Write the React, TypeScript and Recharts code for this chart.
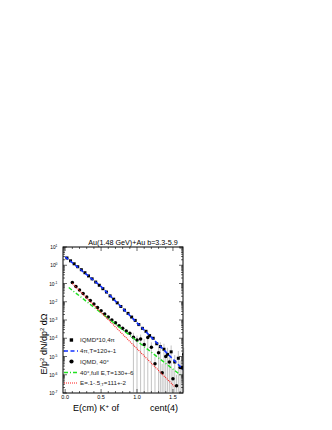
import React from "react";
import { ComposedChart, Scatter, Line, XAxis, YAxis, ErrorBar } from "recharts";

// IQMD*10, 4pi (squares)
const upperX = [0.025, 0.075, 0.125, 0.175, 0.225, 0.275, 0.325, 0.375, 0.425, 0.475, 0.525, 0.575, 0.625, 0.675, 0.725, 0.775, 0.825, 0.875, 0.925, 0.975, 1.025, 1.075, 1.125, 1.175, 1.225, 1.275, 1.325, 1.375, 1.425, 1.475, 1.525, 1.575, 1.625];
const upperY = [2.5, 1.75, 1.2, 0.83, 0.57, 0.39, 0.26, 0.18, 0.12, 0.08, 0.052, 0.034, 0.021, 0.0138, 0.0087, 0.0055, 0.0035, 0.0023, 0.00145, 0.00095, 0.00056, 0.00035, 0.00024, 0.00014, 0.0001, 5e-5, 3.5e-5, 2.5e-5, 1.3e-5, 1.8e-5, 5e-6, 8e-6, 2.5e-6];
const upperLo = [null, null, null, null, null, null, null, null, null, null, null, null, null, null, null, null, null, null, null, null, null, null, null, null, null, null, 1.1e-7, 1.1e-7, 1.1e-7, 1.1e-7, 1.1e-7, 1.1e-7, 1.1e-7];
const upperHi = [null, null, null, null, null, null, null, null, null, null, null, null, null, null, null, null, null, null, null, null, null, null, null, null, null, null, 6e-5, 5e-5, 3e-5, 4e-5, 1.2e-5, 2e-5, 7e-6];

// IQMD, 40 deg (circles)
const lowerX = [0.1, 0.15, 0.2, 0.25, 0.3, 0.35, 0.4, 0.45, 0.5, 0.55, 0.6, 0.65, 0.7, 0.75, 0.8, 0.85, 0.9, 0.95, 1.0, 1.05, 1.1, 1.15, 1.2, 1.25, 1.3, 1.35, 1.4, 1.45, 1.5, 1.55, 1.6, 1.65];
const lowerY = [0.112, 0.068, 0.044, 0.028, 0.018, 0.0117, 0.0076, 0.0049, 0.0032, 0.0021, 0.00145, 0.001, 0.0007, 0.00048, 0.00035, 0.00025, 0.00019, 0.000112, 7.9e-5, 9e-5, 4.5e-5, 1.1e-4, 3.2e-5, 4e-6, 1.6e-5, 1.3e-6, 1e-5, 5e-6, 6e-7, 2.5e-7, 2.5e-6, 1.3e-5];
const lowerLo = [null, null, null, null, null, null, null, null, null, null, null, null, null, null, null, null, null, 1.1e-7, 1.1e-7, 1.1e-7, 1.1e-7, 1.1e-7, 1.1e-7, 1.1e-7, 1.1e-7, 1.1e-7, 1.1e-7, 1.1e-7, 1.1e-7, 1.1e-7, 1.1e-7, 1.1e-7];
const lowerHi = [null, null, null, null, null, null, null, null, null, null, null, null, null, null, null, null, null, 2e-4, 1.4e-4, 1.6e-4, 9e-5, 2e-4, 6e-5, 1e-5, 3.5e-5, 4e-6, 2.2e-5, 1.2e-5, 2e-6, 1e-6, 6e-6, 3e-5];

// fits
const blueX = [0, 0.5, 1.0, 1.65];
const blueY = [2.9, 0.068, 7e-4, 1.8e-6];
const greenX = [0.05, 1.6];
const greenY = [0.06, 1e-6];
const redX = [0.1, 1.52];
const redY = [0.1, 2.3e-7];

const xTicks = [0, 0.1, 0.2, 0.3, 0.4, 0.5, 0.6, 0.7, 0.8, 0.9, 1.0, 1.1, 1.2, 1.3, 1.4, 1.5, 1.6];
const xLabels = ["0.0", "0.5", "1.0", "1.5"];
const decades = [-7, -6, -5, -4, -3, -2, -1, 0, 1];

const yTicks: number[] = [];
decades.forEach(e => {
  yTicks.push(Math.pow(10, e));
  if (e < 1) for (let m = 2; m <= 9; m++) yTicks.push(m * Math.pow(10, e));
});

const pts = (xs: number[], ys: number[], lo?: (number | null)[], hi?: (number | null)[]) =>
  xs.map((x, i) => {
    const y = ys[i];
    const l = lo ? lo[i] : null;
    const h = hi ? hi[i] : null;
    return { x, y, err: [l == null ? 0 : y - l, h == null ? 0 : h - y] };
  });

const upperData = pts(upperX, upperY, upperLo, upperHi);
const lowerData = pts(lowerX, lowerY, lowerLo, lowerHi);
const blueData = pts(blueX, blueY);
const greenData = pts(greenX, greenY);
const redData = pts(redX, redY);

const FONT = "'Liberation Sans', Arial, sans-serif";
const L = 63, R = 183, T = 247, B = 393;
const BLUE = "#1030ff", GREEN = "#22e022", RED = "#ff1a1a";

const isMajor = (v: number) => Math.abs(Math.log10(v) - Math.round(Math.log10(v))) < 1e-6;

const YTick = (side: "left" | "right") => (p: any) => {
  const v = p.payload.value;
  const major = isMajor(v);
  const len = major ? 4 : 2;
  const x0 = side === "left" ? L : R;
  const dir = side === "left" ? 1 : -1;
  const e = Math.round(Math.log10(v));
  return (
    <g>
      <line x1={x0} x2={x0 + dir * len} y1={p.y} y2={p.y} stroke="#000" strokeWidth={0.6} />
      {side === "left" && major && (
        <text x={x0 - 5.5} y={p.y + 2} textAnchor="end" fontSize={4.8} fontFamily={FONT} fill="#000">
          10<tspan dy={-2} fontSize={3.4}>{e}</tspan>
        </text>
      )}
    </g>
  );
};

const XTick = (side: "bottom" | "top") => (p: any) => {
  const v = p.payload.value;
  const idx = Math.round(v * 10);
  const major = idx % 5 === 0;
  const len = major ? 4 : 2;
  const y0 = side === "bottom" ? B : T;
  const dir = side === "bottom" ? -1 : 1;
  return (
    <g>
      <line x1={p.x} x2={p.x} y1={y0} y2={y0 + dir * len} stroke="#000" strokeWidth={0.6} />
      {side === "bottom" && major && (
        <text x={p.x} y={y0 + 5.5} textAnchor="middle" fontSize={5.5} fontFamily={FONT} fill="#000">
          {xLabels[idx / 5]}
        </text>
      )}
    </g>
  );
};

const square = (p: any) => <rect x={p.cx - 1.5} y={p.cy - 1.5} width={3} height={3} fill="#000" />;
const circle = (p: any) => <circle cx={p.cx} cy={p.cy} r={1.75} fill="#000" />;

export default function App() {
  return (
    <div style={{ position: "absolute", left: 0, top: 0, width: 332, height: 430, background: "#fff" }}>
      <ComposedChart width={332} height={430} margin={{ top: T - 1, left: L - 1, right: 332 - R - 1, bottom: 430 - B - 1 }}>
        <XAxis dataKey="x" type="number" domain={[-0.03, 1.64]} ticks={xTicks} allowDataOverflow
          height={1} tickSize={0} tickMargin={0} axisLine={false} tick={XTick("bottom")} interval={0} />
        <XAxis xAxisId="top" orientation="top" dataKey="x" type="number" domain={[-0.03, 1.64]} ticks={xTicks} allowDataOverflow
          height={1} tickSize={0} tickMargin={0} axisLine={false} tick={XTick("top")} interval={0} />
        <YAxis scale="log" type="number" domain={[1e-7, 10]} ticks={yTicks} allowDataOverflow
          width={1} tickSize={0} tickMargin={0} axisLine={false} tick={YTick("left")} interval={0} />
        <YAxis yAxisId="right" orientation="right" scale="log" type="number" domain={[1e-7, 10]} ticks={yTicks} allowDataOverflow
          width={1} tickSize={0} tickMargin={0} axisLine={false} tick={YTick("right")} interval={0} />

        <Scatter data={lowerData} dataKey="y" shape={circle} isAnimationActive={false}>
          <ErrorBar dataKey="err" direction="y" width={0} stroke="#9a9a9a" strokeWidth={0.6} />
        </Scatter>
        <Scatter data={upperData} dataKey="y" shape={square} isAnimationActive={false}>
          <ErrorBar dataKey="err" direction="y" width={0} stroke="#9a9a9a" strokeWidth={0.6} />
        </Scatter>
        <Line data={greenData} dataKey="y" stroke={GREEN} strokeWidth={1.4} strokeDasharray="4 2 1 2" dot={false} isAnimationActive={false} zIndex={700} />
        <Line data={redData} dataKey="y" stroke={RED} strokeWidth={1.1} strokeDasharray="1 1" dot={false} isAnimationActive={false} zIndex={700} />
        <Line data={blueData} dataKey="y" stroke={BLUE} strokeWidth={1.6} strokeDasharray="4 2.5" dot={false} isAnimationActive={false} zIndex={700} />
      </ComposedChart>

      <svg width={332} height={430} style={{ position: "absolute", left: 0, top: 0, pointerEvents: "none" }} fontFamily={FONT}>
        <rect x={L} y={T} width={R - L} height={B - T} fill="none" stroke="#000" strokeWidth={1} />
        <text x={133} y={245} textAnchor="middle" fontSize={7.2} fill="#000">Au(1.48  GeV)+Au  b=3.3-5.9</text>
        <text x={73} y={411} fontSize={9} fill="#000">
          E(cm) K<tspan dy={-3.5} fontSize={6}>+</tspan><tspan dy={3.5}> of</tspan>
        </text>
        <text x={150} y={411} fontSize={9} fill="#000">cent(4)</text>
        <text transform="translate(47,344) rotate(-90)" textAnchor="middle" fontSize={9} fill="#000">
          E/p<tspan dy={-3} fontSize={6}>2</tspan><tspan dy={3}> dN/dp</tspan><tspan dy={-3} fontSize={6}>2</tspan><tspan dy={3}> dΩ</tspan>
        </text>

        {/* legend */}
        <rect x={69.7} y={338.3} width={3.4} height={3.4} fill="#000" />
        <text x={80} y={342.2} fontSize={6.2} fill="#222">IQMD*10,4π</text>
        <line x1={64} x2={78} y1={351} y2={351} stroke={BLUE} strokeWidth={1.6} strokeDasharray="4 2.5" />
        <text x={80} y={353.2} fontSize={6.2} fill="#222">4π,T=120+-1</text>
        <circle cx={71.5} cy={361.5} r={2.1} fill="#000" />
        <text x={80} y={363.7} fontSize={6.2} fill="#222">IQMD, 40°</text>
        <line x1={64} x2={78} y1={372.5} y2={372.5} stroke={GREEN} strokeWidth={1.4} strokeDasharray="4 2 1 2" />
        <text x={80} y={374.7} fontSize={6.2} fill="#222">40°,full E,T=130+-6</text>
        <line x1={64} x2={78} y1={383} y2={383} stroke={RED} strokeWidth={1.1} strokeDasharray="1 1" />
        <text x={80} y={385.2} fontSize={6.2} fill="#222">
          E=.1-.5<tspan dy={1.2} fontSize={4.2}>,T</tspan><tspan dy={-1.2}>=111+-2</tspan>
        </text>
      </svg>
    </div>
  );
}
